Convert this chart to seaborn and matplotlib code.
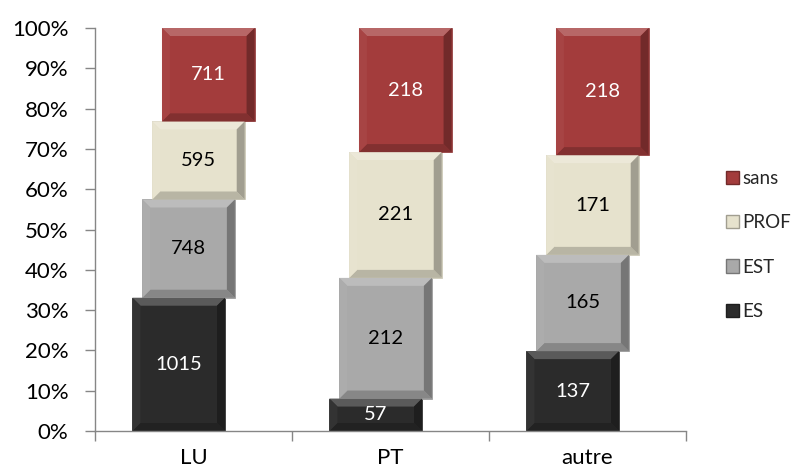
import numpy as np
import pandas as pd
import matplotlib
matplotlib.use("Agg")
import matplotlib.pyplot as plt
import matplotlib.colors as mcolors
from matplotlib.patches import Patch, Polygon
import seaborn as sns

# ---- data ----
categories = ["LU", "PT", "autre"]
series_names = ["ES", "EST", "PROF", "sans"]
es_vals = [1015, 57, 137]
est_vals = [748, 212, 165]
prof_vals = [595, 221, 171]
sans_vals = [711, 218, 218]
y_tick_labels = ["0%", "10%", "20%", "30%", "40%", "50%", "60%", "70%", "80%", "90%", "100%"]

series_vals = [es_vals, est_vals, prof_vals, sans_vals]
colors = ["#2b2b2b", "#a9a9a9", "#e6e2cd", "#a33c3c"]
label_colors = ["white", "black", "black", "white"]
offsets = [-0.075, -0.025, 0.025, 0.075]

sns.set_theme(style="white")
plt.rcParams["font.family"] = ["Lato", "DejaVu Sans"]

totals = np.sum(np.array(series_vals, dtype=float), axis=0)

fig = plt.figure(figsize=(7.95, 4.72), dpi=100)
ax = fig.add_axes([95 / 795, 1 - 431 / 472, (686 - 95) / 795, (431 - 28) / 472])

bar_w = 0.47
cum = np.zeros(len(categories))
ax_h_px = 403.0
ax_w_px = 591.0

def shade(c, f):
    r = np.array(mcolors.to_rgb(c))
    if f > 0:
        r = r + (1 - r) * f
    else:
        r = r * (1 + f)
    return tuple(np.clip(r, 0, 1))

for i, (name, vals) in enumerate(zip(series_names, series_vals)):
    pct = np.array(vals) / totals
    df = pd.DataFrame({"cat": categories, "pct": pct})
    n_before = len(ax.patches)
    sns.barplot(data=df, x="cat", y="pct", color=colors[i], width=bar_w,
                saturation=1, ax=ax, errorbar=None, order=categories)
    new = ax.patches[n_before:]
    for j, p in enumerate(new):
        p.set_y(cum[j])
        p.set_height(pct[j])
        p.set_x(p.get_x() + offsets[i])
        p.set_facecolor(colors[i])
        p.set_edgecolor(shade(colors[i], -0.15))
        p.set_linewidth(0.5)
        x0, y0 = p.get_x(), p.get_y()
        w, h = p.get_width(), p.get_height()
        x1, y1 = x0 + w, y0 + h
        dx = 8 * 3.0 / ax_w_px
        dy = min(8 / ax_h_px, h * 0.3)
        top = [(x0, y1), (x1, y1), (x1 - dx, y1 - dy), (x0 + dx, y1 - dy)]
        bot = [(x0, y0), (x1, y0), (x1 - dx, y0 + dy), (x0 + dx, y0 + dy)]
        lef = [(x0, y0), (x0 + dx, y0 + dy), (x0 + dx, y1 - dy), (x0, y1)]
        rig = [(x1, y0), (x1 - dx, y0 + dy), (x1 - dx, y1 - dy), (x1, y1)]
        for poly, f in ((top, 0.22), (bot, -0.2), (lef, 0.04), (rig, -0.3)):
            ax.add_patch(Polygon(poly, closed=True, facecolor=shade(colors[i], f),
                                 edgecolor="none", zorder=2.5))
        ax.text(x0 + w / 2, y0 + h / 2, f"{vals[j]}", ha="center", va="center",
                color=label_colors[i], fontsize=14.5, zorder=4)
    cum = cum + pct

ax.set_xlim(-0.5, len(categories) - 0.5)
ax.set_ylim(0, 1)
ax.set_xlabel("")
ax.set_ylabel("")

ax.set_yticks(np.linspace(0, 1, len(y_tick_labels)))
ax.set_yticklabels(y_tick_labels, fontsize=16, color="black")
ax.set_xticks(np.arange(len(categories) + 1) - 0.5)
ax.set_xticklabels([""] * (len(categories) + 1))
ax.set_xticks(np.arange(len(categories)), minor=True)
ax.set_xticklabels(categories, minor=True, fontsize=16, color="black")
ax.tick_params(axis="x", which="minor", length=0, pad=12)
ax.tick_params(axis="x", which="major", length=7, width=1, color="#868686", direction="out")
ax.tick_params(axis="y", which="major", length=7, width=1, color="#868686", direction="out", pad=12)
ax.tick_params(left=True, bottom=True)
for side in ["top", "right"]:
    ax.spines[side].set_visible(False)
for side in ["left", "bottom"]:
    ax.spines[side].set_color("#868686")
    ax.spines[side].set_linewidth(1)
ax.grid(False)

handles = [Patch(facecolor=colors[i], edgecolor=shade(colors[i], -0.3), label=series_names[i])
           for i in range(len(series_names))][::-1]
fig.legend(handles=handles, loc="center left", bbox_to_anchor=(726 / 795, 1 - 245 / 472),
           frameon=False, fontsize=13.5, handlelength=0.7, handleheight=0.7,
           handletextpad=0.15, labelspacing=1.45, borderaxespad=0, borderpad=0)

fig.savefig("out.png", dpi=100)
